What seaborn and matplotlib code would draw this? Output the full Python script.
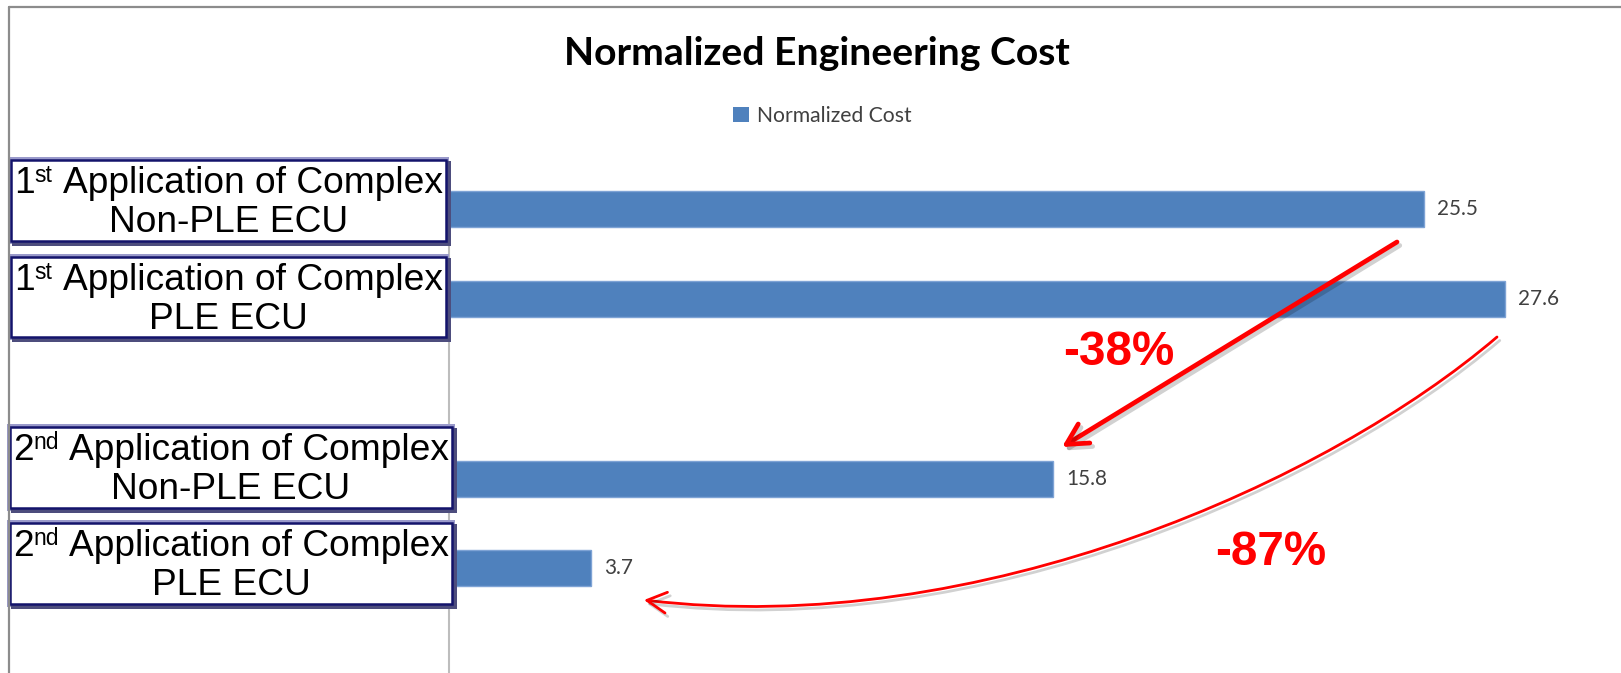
import matplotlib
matplotlib.use("Agg")
import matplotlib.pyplot as plt
import matplotlib.transforms as mtransforms
from matplotlib import patheffects as pe
from matplotlib.patches import Rectangle, FancyArrowPatch
from matplotlib.path import Path
from matplotlib.lines import Line2D
import numpy as np
import pandas as pd
import seaborn as sns

# ---------------- data ----------------
categories = [
    "1st Application of Complex Non-PLE ECU",
    "1st Application of Complex PLE ECU",
    "2nd Application of Complex Non-PLE ECU",
    "2nd Application of Complex PLE ECU",
]
cost_values = [25.5, 27.6, 15.8, 3.7]
label_ordinal = ["1", "1", "2", "2"]
label_suffix = ["st", "st", "nd", "nd"]
label_rest = ["Application of Complex"] * 4
label_line2 = ["Non-PLE ECU", "PLE ECU", "Non-PLE ECU", "PLE ECU"]
series_name = "Normalized Cost"
title_text = "Normalized Engineering Cost"
change_labels = ["-38%", "-87%"]
spacer = " "
order = categories[:2] + [spacer] + categories[2:]

# ---------------- style ----------------
sns.set_style("white")
plt.rcParams["font.family"] = ["Lato", "DejaVu Sans"]

W, H = 1621, 673
fig = plt.figure(figsize=(W / 100, H / 100), dpi=100)
fig.patch.set_facecolor("white")
PX = mtransforms.Affine2D().scale(1 / W, -1 / H).translate(0, 1) + fig.transFigure
renderer = fig.canvas.get_renderer()


def text_width(s, size, **kw):
    t = fig.text(0, 0, s, fontsize=size, **kw)
    w = t.get_window_extent(renderer).width
    t.remove()
    return w


def fit_size(s, target_px, **kw):
    return 100 * target_px / text_width(s, 100, **kw)


BAR = "#4F81BD"

# ---------------- axes / bars ----------------
ax_left, ax_top, ax_right = 449, 163.7, 1596.5
slot_px = 89.95
ax = fig.add_axes([ax_left / W, 0, (ax_right - ax_left) / W, (H - ax_top) / H])
df = pd.DataFrame({"category": categories, "cost": cost_values})
sns.barplot(data=df, x="cost", y="category", order=order, orient="h",
            color=BAR, saturation=1, width=0.4, edgecolor="#7EA3D5",
            linewidth=1, ax=ax)
ax.set_xlim(0, 30)
n_slots = (H - ax_top) / slot_px
ax.set_ylim(-0.5 + n_slots, -0.5)
ax.set_xlabel("")
ax.set_ylabel("")
ax.set_xticks([])
ax.set_yticks([])
for s in ["top", "right", "bottom"]:
    ax.spines[s].set_visible(False)
ax.spines["left"].set_color("#BDBDBD")
ax.spines["left"].set_linewidth(1.5)
ax.set_facecolor("white")
if ax.get_legend() is not None:
    ax.get_legend().remove()

lab_size = fit_size("25.5", 41, family="Lato")
for cont in ax.containers:
    ax.bar_label(cont, fmt="%.1f", padding=9.4, fontsize=lab_size,
                 color="#404040", family="Lato")

# ---------------- title & legend ----------------
fig.text(817, 65, title_text, transform=PX, ha="center", va="baseline",
         fontweight="bold", family="Lato", color="black",
         fontsize=fit_size(title_text, 505, family="Lato", fontweight="bold"))

leg_size = fit_size(series_name, 155, family="Lato")
handle = Rectangle((0, 0), 1, 1, fc=BAR, ec="none")
fig.legend([handle], [series_name], loc="center left",
           bbox_to_anchor=(733 / W, 1 - 116 / H), frameon=False,
           handlelength=0.75, handleheight=0.75, handletextpad=0.4,
           borderpad=0, borderaxespad=0,
           prop={"family": "Lato", "size": leg_size}, labelcolor="#404040")

# ---------------- outer border ----------------
fig.add_artist(Line2D([9, W], [7, 7], transform=PX, color="#8C8C8C", lw=1.6))
fig.add_artist(Line2D([9, 9], [7, H], transform=PX, color="#8C8C8C", lw=1.6))

# ---------------- label boxes ----------------
boxes = [(11, 160, 446, 241), (11, 257, 446, 337), (10, 427, 452, 508), (10, 523, 452, 604)]
FS = 26.7                      # points
em_px = FS * 100 / 72
sup_fs = FS * 0.62
FONT = "Liberation Sans"
for (x0, y0, x1, y1), o, sfx, rest, l2 in zip(boxes, label_ordinal, label_suffix,
                                               label_rest, label_line2):
    w, h = x1 - x0, y1 - y0
    fig.add_artist(Rectangle((x0 - 3, y0 - 3), w + 6, h + 6, transform=PX,
                             fc="#9A9ACB", ec="none"))
    fig.add_artist(Rectangle((x0 + 1, y0 + 1), w + 4, h + 4, transform=PX,
                             fc="#4D4D7D", ec="none"))
    fig.add_artist(Rectangle((x0, y0), w, h, transform=PX, fc="white",
                             ec="#13136B", lw=1.8))
    cx = (x0 + x1) / 2
    b1 = y0 + 33
    w_o = text_width(o, FS, family=FONT)
    w_s = text_width(sfx, sup_fs, family=FONT)
    w_r = text_width(rest, FS, family=FONT)
    gap1 = 0.0 * em_px
    gap2 = 0.28 * em_px
    total = w_o + gap1 + w_s + gap2 + w_r
    xs = cx - total / 2
    fig.text(xs, b1, o, transform=PX, ha="left", va="baseline",
             family=FONT, fontsize=FS, color="black")
    fig.text(xs + w_o + gap1, b1 - 0.31 * em_px, sfx, transform=PX, ha="left",
             va="baseline", family=FONT, fontsize=sup_fs, color="black")
    fig.text(xs + w_o + gap1 + w_s + gap2, b1, rest, transform=PX, ha="left",
             va="baseline", family=FONT, fontsize=FS, color="black")
    fig.text(cx, y0 + 72, l2, transform=PX, ha="center", va="baseline",
             family=FONT, fontsize=FS, color="black")

# ---------------- arrows & change labels ----------------
shadow = [pe.SimpleLineShadow(offset=(2, -2.5), shadow_color="black", alpha=0.18),
          pe.Normal()]
arr1 = FancyArrowPatch(posA=(1397, 242), posB=(1062, 447), transform=PX,
                       arrowstyle="->,head_length=15,head_width=8",
                       mutation_scale=1, color="#FF0000", lw=3.4,
                       shrinkA=0, shrinkB=0, path_effects=shadow)
fig.add_artist(arr1)

curve = Path([(1497, 337), (1330, 480), (980, 640), (644, 600)],
             [Path.MOVETO, Path.CURVE4, Path.CURVE4, Path.CURVE4])
arr2 = FancyArrowPatch(path=curve, transform=PX,
                       arrowstyle="->,head_length=14,head_width=7.5",
                       mutation_scale=1, color="#FF0000", lw=2.0,
                       path_effects=shadow)
fig.add_artist(arr2)

red_size = fit_size(change_labels[0], 111, family=FONT, fontweight="bold")
fig.text(1119, 365, change_labels[0], transform=PX, ha="center", va="baseline",
         family=FONT, fontweight="bold", color="#FF0000", fontsize=red_size)
fig.text(1271, 565, change_labels[1], transform=PX, ha="center", va="baseline",
         family=FONT, fontweight="bold", color="#FF0000", fontsize=red_size)

fig.savefig("out.png", dpi=100, facecolor="white")
